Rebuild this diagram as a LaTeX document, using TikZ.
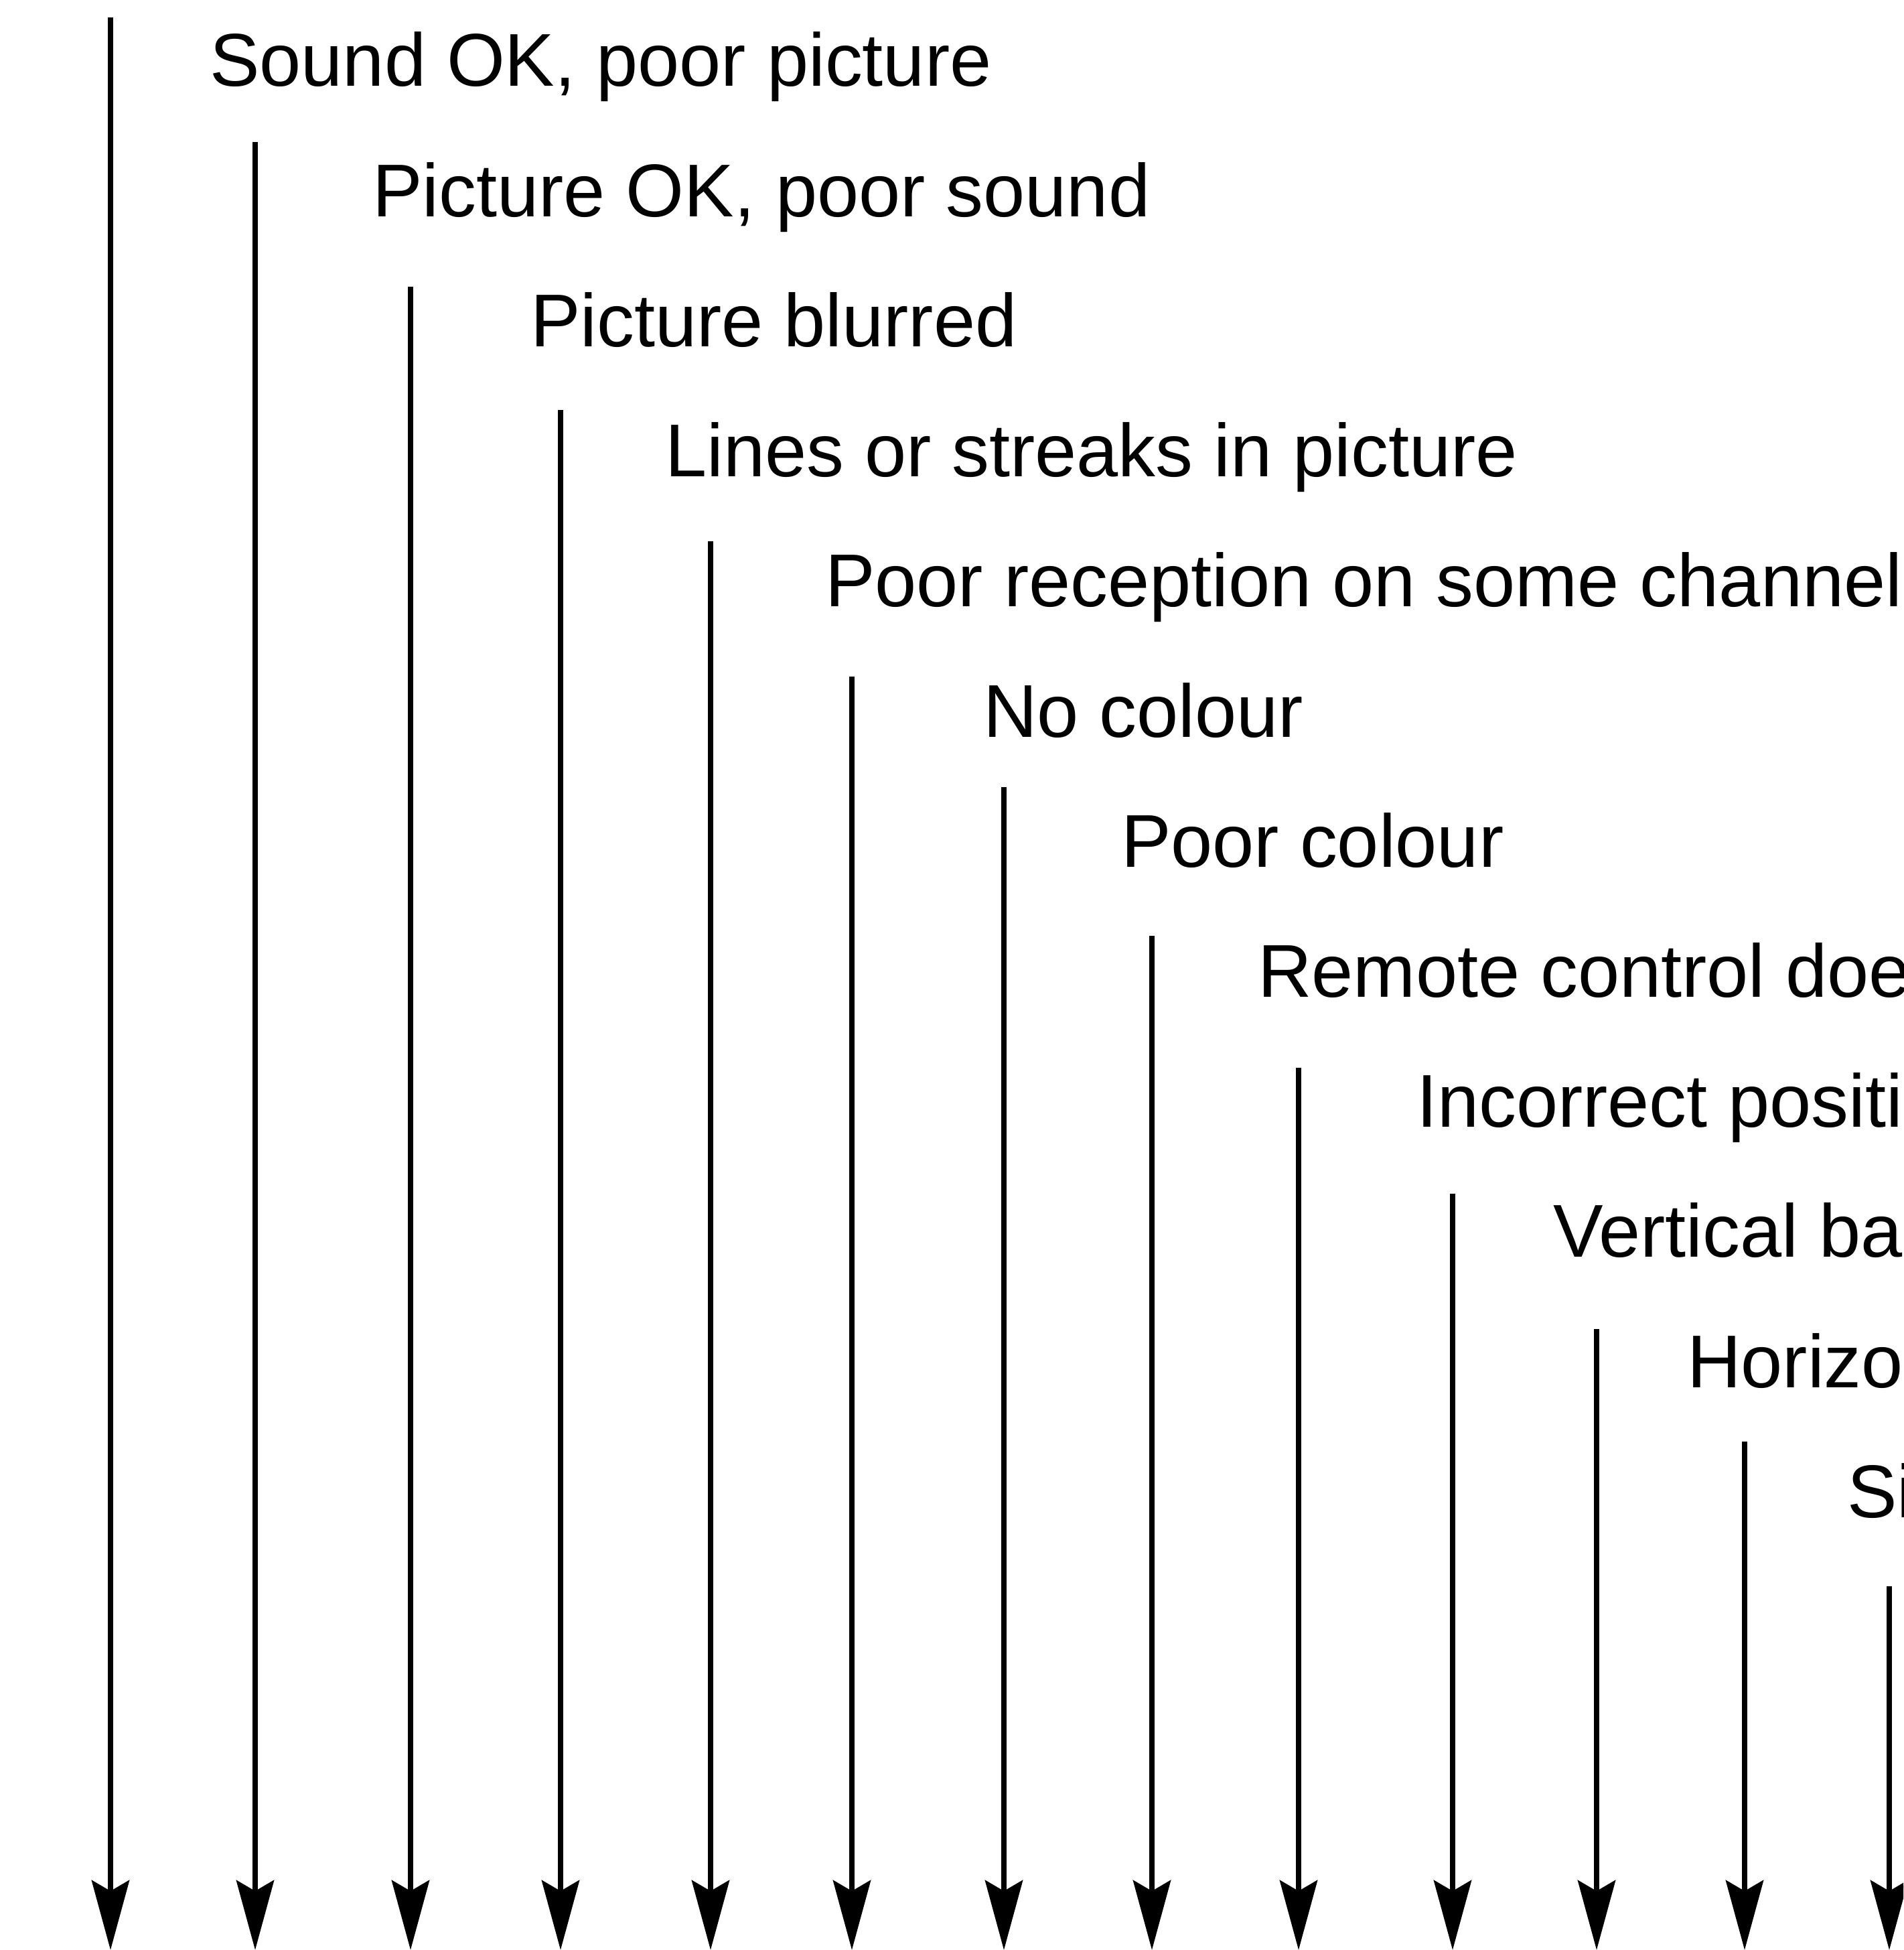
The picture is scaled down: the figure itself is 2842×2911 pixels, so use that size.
\documentclass[tikz,border=0pt]{standalone}
\usepackage{fontspec}
\setmainfont{Liberation Sans}
\usetikzlibrary{arrows.meta}
\tikzset{
  arr/.style={line width=8pt, -{Stealth[length=104pt, width=56pt, inset=16pt]}},
  lbl/.style={anchor=base west, inner sep=0pt, font=\fontsize{111.7pt}{134pt}\selectfont}
}
\begin{document}
\begin{tikzpicture}[x=1pt, y=-1pt]
\useasboundingbox (0,0) rectangle (2842,2911);
\fill[white] (0,0) rectangle (2842,2911);
\clip (0,0) rectangle (2842,2911);
% labels
\node[lbl] (l0)  at (313,129)    {Sound OK, poor picture};
\node[lbl] (l1)  at (556,323.2)  {Picture OK, poor sound};
\node[lbl] (l2)  at (792,517.4)  {Picture blurred};
\node[lbl] (l3)  at (993,711.6)  {Lines or streaks in picture};
\node[lbl] (l4)  at (1232,905.8) {Poor reception on some channel};
\node[lbl] (l5)  at (1468,1100)  {No colour};
\node[lbl] (l6)  at (1674,1294.2) {Poor colour};
\node[lbl] (l7)  at (1878,1488.4) {Remote control doe};
\node[lbl] (l8)  at (2115,1682.6) {Incorrect positio};
\node[lbl] (l9)  at (2319,1876.8) {Vertical ba};
\node[lbl] (l10) at (2519,2071)   {Horizo};
\node[lbl] (l11) at (2758,2265.2) {Si};
% arrow start and end points
\coordinate (t0)  at (165,26);    \coordinate (b0)  at (165,2911);
\coordinate (t1)  at (381,212);   \coordinate (b1)  at (381,2911);
\coordinate (t2)  at (613,428);   \coordinate (b2)  at (613,2911);
\coordinate (t3)  at (837,612);   \coordinate (b3)  at (837,2911);
\coordinate (t4)  at (1061,808);  \coordinate (b4)  at (1061,2911);
\coordinate (t5)  at (1272,1010); \coordinate (b5)  at (1272,2911);
\coordinate (t6)  at (1499,1175); \coordinate (b6)  at (1499,2911);
\coordinate (t7)  at (1720,1397); \coordinate (b7)  at (1720,2911);
\coordinate (t8)  at (1939,1594); \coordinate (b8)  at (1939,2911);
\coordinate (t9)  at (2169,1782); \coordinate (b9)  at (2169,2911);
\coordinate (t10) at (2384,1984); \coordinate (b10) at (2384,2911);
\coordinate (t11) at (2605,2152); \coordinate (b11) at (2605,2911);
\coordinate (t12) at (2821,2368); \coordinate (b12) at (2821,2911);
\foreach \i in {0,...,12} {\draw[arr] (t\i) -- (b\i);}
\end{tikzpicture}
\end{document}
